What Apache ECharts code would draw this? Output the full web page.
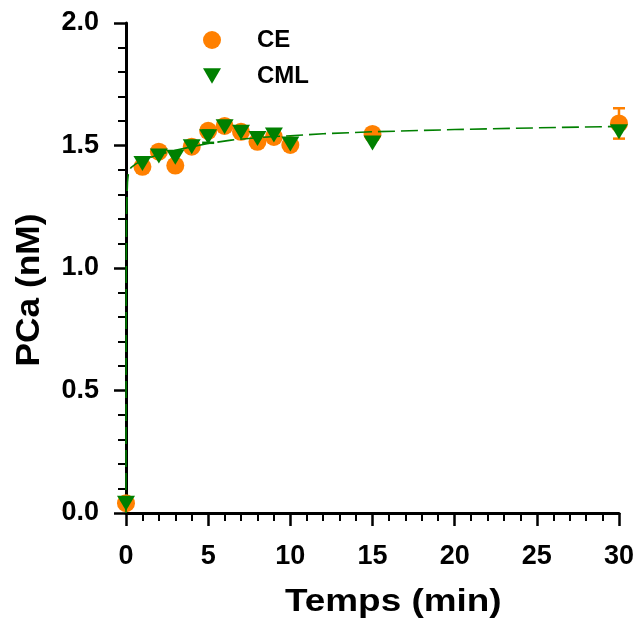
<!DOCTYPE html>
<html>
<head>
<meta charset="utf-8">
<script src="https://cdn.jsdelivr.net/npm/echarts@6/dist/echarts.min.js"></script>
<style>
  html, body { margin: 0; padding: 0; background: #fff; }
  #chart { width: 637px; height: 622px; }
</style>
</head>
<body>
<div id="chart"></div>
<script>
// ---- Data ----
const times = [0, 1, 2, 3, 4, 5, 6, 7, 8, 9, 10, 15, 30];
const ceValues  = [0.04, 1.413, 1.475, 1.418, 1.495, 1.56, 1.58, 1.556, 1.515, 1.535, 1.502, 1.547, 1.59];
const ceErrors  = [0, 0, 0, 0, 0, 0, 0, 0, 0, 0, 0, 0, 0.062];
const cmlValues = [0.04, 1.427, 1.457, 1.452, 1.495, 1.536, 1.577, 1.554, 1.529, 1.543, 1.506, 1.51, 1.556];
const cmlErrors = [0, 0, 0, 0, 0, 0.025, 0, 0, 0, 0, 0, 0, 0];
const fitTimes  = [0, 0.01, 0.03, 0.06, 0.09, 0.15, 0.3, 0.6, 1, 2, 3, 4, 5, 6.4, 8, 10, 12, 15, 20, 25, 30];
const fitValues = [0, 0.9, 1.21, 1.29, 1.35, 1.39, 1.41, 1.425, 1.44, 1.463, 1.48, 1.495, 1.508, 1.522, 1.532, 1.54, 1.548, 1.556, 1.565, 1.572, 1.578];
const xTicks = [0, 5, 10, 15, 20, 25, 30];
const yTicks = [0.0, 0.5, 1.0, 1.5, 2.0];
const seriesNames = ['CE', 'CML'];
const xTitle = 'Temps (min)';
const yTitle = 'PCa (nM)';

const ORANGE = '#ff8000';
const GREEN = '#008000';
const FONT = 'Liberation Sans';
const TRI = 'path://M0,0L20,0L10,17Z';

const zip = (a, b) => a.map((v, i) => [v, b[i]]);
const errData = (vals, errs) => times.map((t, i) => [t, vals[i] - errs[i], vals[i] + errs[i], errs[i]]).filter(d => d[3] > 0);

function errRender(color) {
  return function (params, api) {
    const x = api.value(0);
    const lo = api.coord([x, api.value(1)]);
    const hi = api.coord([x, api.value(2)]);
    const hw = 6;
    const st = { stroke: color, lineWidth: 2.5 };
    return {
      type: 'group',
      children: [
        { type: 'line', shape: { x1: lo[0], y1: lo[1], x2: hi[0], y2: hi[1] }, style: st },
        { type: 'line', shape: { x1: hi[0] - hw, y1: hi[1], x2: hi[0] + hw, y2: hi[1] }, style: st },
        { type: 'line', shape: { x1: lo[0] - hw, y1: lo[1], x2: lo[0] + hw, y2: lo[1] }, style: st }
      ]
    };
  };
}

const chart = echarts.init(document.getElementById('chart'), null, { renderer: 'canvas' });
chart.setOption({
  animation: false,
  backgroundColor: '#fff',
  grid: { left: 126, right: 17, top: 23, bottom: 109, containLabel: false },
  legend: {
    orient: 'vertical',
    left: 198,
    top: 23,
    itemWidth: 18,
    itemHeight: 18,
    itemGap: 12,
    data: [
      { name: seriesNames[0], icon: 'circle', itemStyle: { color: ORANGE, opacity: 1 } },
      { name: seriesNames[1], icon: TRI, itemStyle: { color: GREEN, opacity: 1 } }
    ],
    textStyle: { fontFamily: FONT, fontWeight: 'bold', fontSize: 24, color: '#000', padding: [0, 0, 0, 31] }
  },
  xAxis: {
    type: 'value',
    min: xTicks[0],
    max: xTicks[xTicks.length - 1],
    interval: 5,
    axisLine: { show: true, onZero: false, lineStyle: { color: '#000', width: 3 } },
    axisTick: { show: true, inside: false, length: 13, lineStyle: { color: '#000', width: 2.5 } },
    minorTick: { show: true, splitNumber: 5, length: 8, lineStyle: { color: '#000', width: 2 } },
    splitLine: { show: false },
    axisLabel: { margin: 30, fontFamily: FONT, fontWeight: 'bold', fontSize: 27, color: '#000' }
  },
  yAxis: {
    type: 'value',
    min: yTicks[0],
    max: yTicks[yTicks.length - 1],
    interval: 0.5,
    axisLine: { show: true, onZero: false, lineStyle: { color: '#000', width: 3 } },
    axisTick: { show: true, inside: false, length: 12, lineStyle: { color: '#000', width: 2.5 } },
    minorTick: { show: true, splitNumber: 5, length: 8, lineStyle: { color: '#000', width: 2 } },
    splitLine: { show: false },
    axisLabel: {
      margin: 27, fontFamily: FONT, fontWeight: 'bold', fontSize: 27, color: '#000',
      formatter: v => v.toFixed(1)
    }
  },
  graphic: [
    {
      type: 'text', x: 285, y: 602, scaleX: 1.19,
      style: { text: xTitle, font: 'bold 31px "Liberation Sans"', fill: '#000',
               textAlign: 'left', textVerticalAlign: 'middle', align: 'left', verticalAlign: 'middle' }
    },
    {
      type: 'text', x: 30, y: 290, rotation: Math.PI / 2, scaleX: 1.07,
      style: { text: yTitle, font: 'bold 33px "Liberation Sans"', fill: '#000',
               textAlign: 'center', textVerticalAlign: 'middle', align: 'center', verticalAlign: 'middle' }
    }
  ],
  series: [
    {
      name: seriesNames[0],
      type: 'scatter',
      data: zip(times, ceValues),
      symbol: 'circle',
      symbolSize: 18,
      itemStyle: { color: ORANGE, opacity: 1 },
      emphasis: { disabled: true },
      z: 2
    },
    {
      name: 'CE-err',
      type: 'custom',
      data: errData(ceValues, ceErrors),
      renderItem: errRender(ORANGE),
      encode: { x: 0, y: [1, 2] },
      z: 1
    },
    {
      name: 'fit',
      type: 'line',
      data: zip(fitTimes, fitValues),
      showSymbol: false,
      symbol: 'none',
      smooth: false,
      lineStyle: { color: GREEN, width: 1.6, type: [17, 6] },
      z: 3
    },
    {
      name: 'CML-err',
      type: 'custom',
      data: errData(cmlValues, cmlErrors),
      renderItem: errRender(GREEN),
      encode: { x: 0, y: [1, 2] },
      z: 3
    },
    {
      name: seriesNames[1],
      type: 'scatter',
      data: zip(times, cmlValues),
      symbol: TRI,
      symbolSize: [18, 15],
      itemStyle: { color: GREEN, opacity: 1 },
      emphasis: { disabled: true },
      z: 4
    }
  ]
});
</script>
</body>
</html>
